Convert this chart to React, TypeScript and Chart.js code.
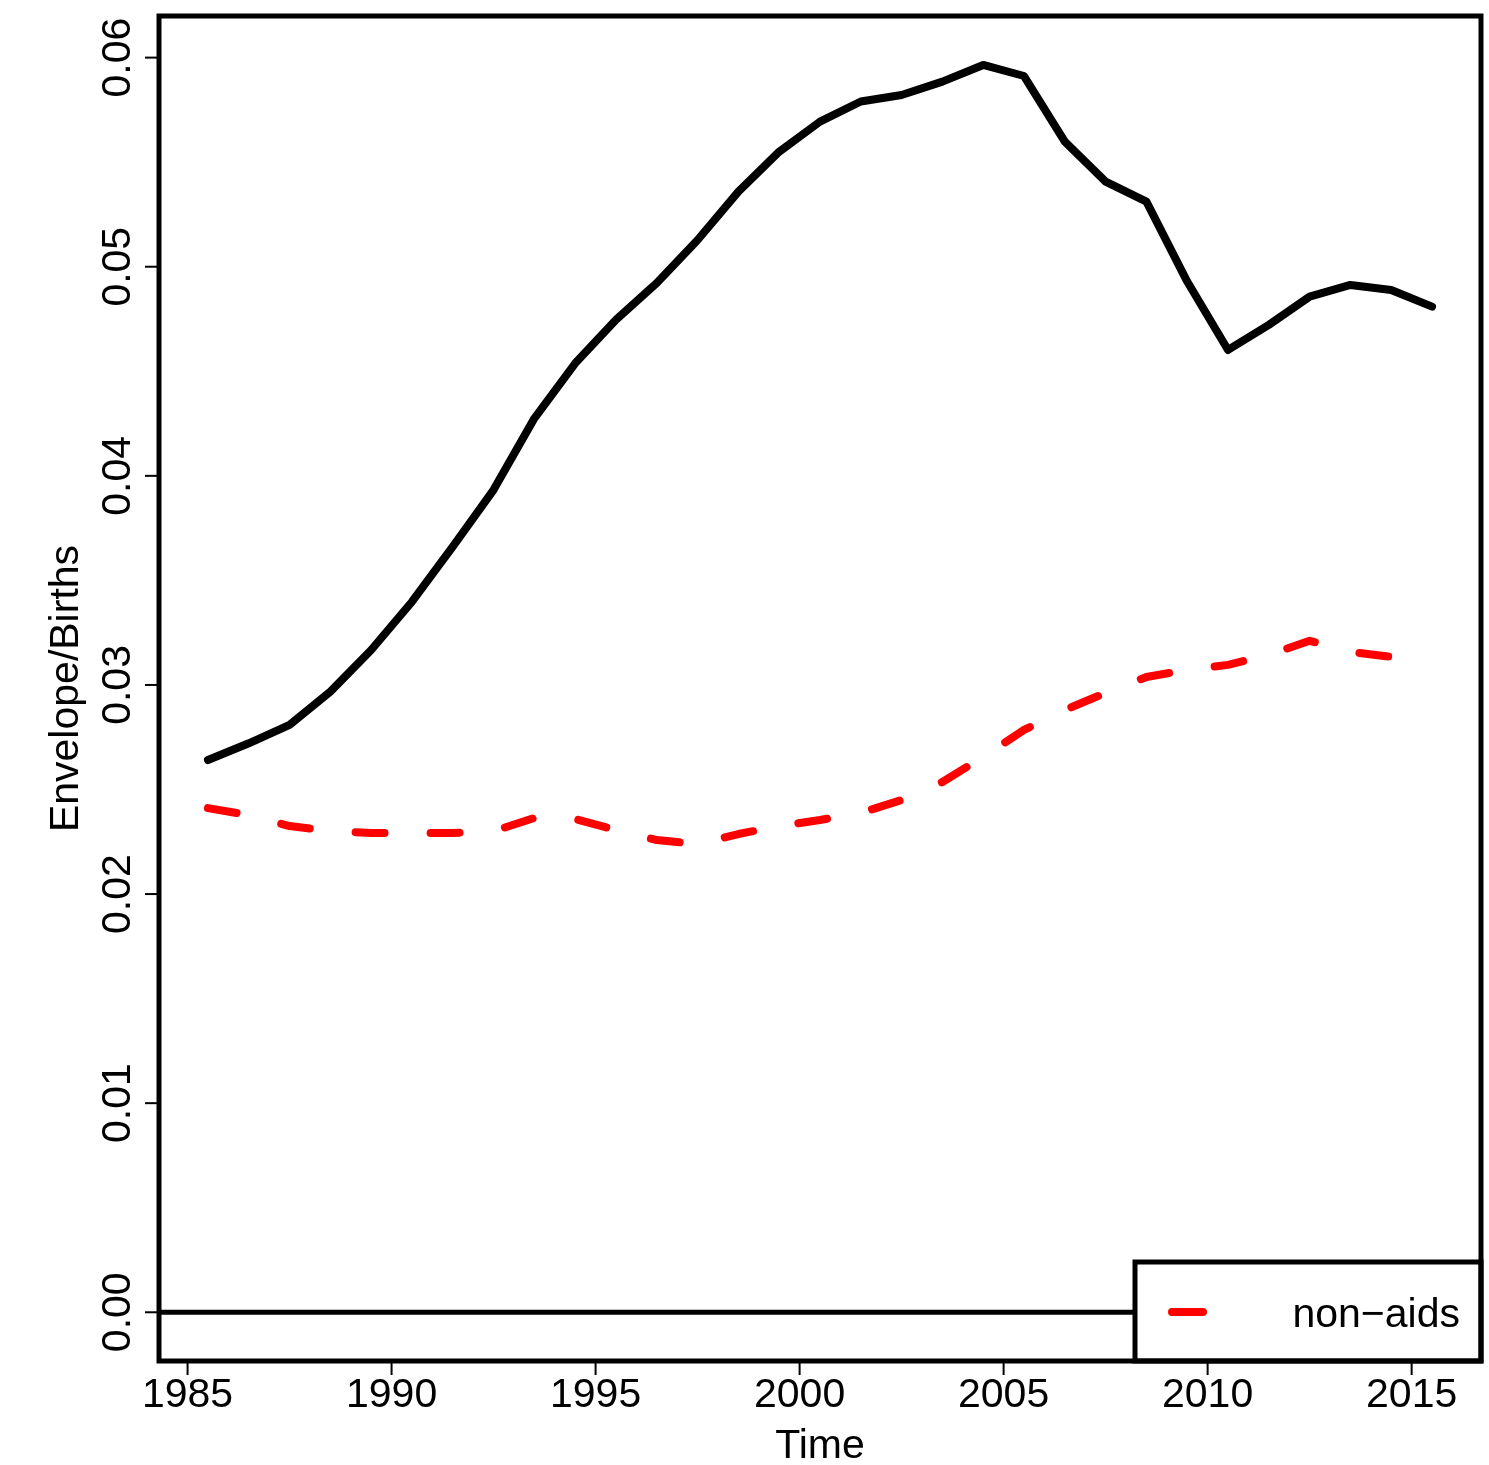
import React, { useEffect, useRef } from "react";
import { Chart, registerables } from "chart.js";

Chart.register(...registerables);

const years = [
  1985.5, 1986.5, 1987.5, 1988.5, 1989.5, 1990.5, 1991.5, 1992.5, 1993.5, 1994.5,
  1995.5, 1996.5, 1997.5, 1998.5, 1999.5, 2000.5, 2001.5, 2002.5, 2003.5, 2004.5,
  2005.5, 2006.5, 2007.5, 2008.5, 2009.5, 2010.5, 2011.5, 2012.5, 2013.5, 2014.5,
  2015.5,
];

const allCause = [
  0.02641, 0.02721, 0.02809, 0.02968, 0.03167, 0.03398, 0.03661, 0.03933, 0.04275, 0.04538,
  0.04746, 0.04922, 0.05128, 0.05359, 0.0555, 0.05694, 0.0579, 0.05821, 0.05885, 0.05965,
  0.05912, 0.05598, 0.05407, 0.05311, 0.04929, 0.04602, 0.04722, 0.04857, 0.04913, 0.04889,
  0.04809,
];

const nonAids = [
  0.02411, 0.02378, 0.02325, 0.02301, 0.02292, 0.02292, 0.02292, 0.02301, 0.02364, 0.02359,
  0.02306, 0.02258, 0.02239, 0.02287, 0.02325, 0.02354, 0.02388, 0.0245, 0.02536, 0.02656,
  0.02785, 0.0288, 0.02962, 0.03038, 0.03072, 0.03096, 0.03144, 0.03211, 0.03158, 0.03134,
];

const xTicks = [1985, 1990, 1995, 2000, 2005, 2010, 2015];
const yTicks = [0, 0.01, 0.02, 0.03, 0.04, 0.05, 0.06];
const yTickLabels = ["0.00", "0.01", "0.02", "0.03", "0.04", "0.05", "0.06"];
const legendLabels = ["non−aids"];

const FONT = "41px 'Liberation Sans', Arial, Helvetica, sans-serif";

const rPlotPlugin = {
  id: "rPlot",
  afterDatasetsDraw(chart: any) {
    const { ctx, chartArea } = chart;
    const xs = chart.scales.x;
    const ys = chart.scales.y;
    const { left, right, top, bottom } = chartArea;
    ctx.save();

    // abline h = 0
    const y0 = ys.getPixelForValue(0);
    ctx.strokeStyle = "#000";
    ctx.lineWidth = 5;
    ctx.lineCap = "butt";
    ctx.beginPath();
    ctx.moveTo(left, y0);
    ctx.lineTo(right, y0);
    ctx.stroke();

    // legend box
    const lgLeft = 1135;
    const lgTop = 1262;
    ctx.fillStyle = "#fff";
    ctx.fillRect(lgLeft, lgTop, right - lgLeft, bottom - lgTop);
    ctx.lineWidth = 5;
    ctx.strokeStyle = "#000";
    ctx.lineJoin = "miter";
    ctx.strokeRect(lgLeft, lgTop, right - lgLeft, bottom - lgTop);
    ctx.strokeStyle = "#ff0000";
    ctx.lineWidth = 8;
    ctx.lineCap = "round";
    ctx.beginPath();
    ctx.moveTo(1172, 1312);
    ctx.lineTo(1203, 1312);
    ctx.stroke();
    ctx.fillStyle = "#000";
    ctx.font = FONT;
    ctx.textAlign = "right";
    ctx.textBaseline = "alphabetic";
    ctx.fillText(legendLabels[0], 1460, 1327);

    // plot box
    ctx.lineCap = "butt";
    ctx.strokeStyle = "#000";
    ctx.lineWidth = 5;
    ctx.strokeRect(left, top, right - left, bottom - top);

    // x ticks
    ctx.lineWidth = 2;
    ctx.textAlign = "center";
    ctx.textBaseline = "alphabetic";
    xTicks.forEach((t) => {
      const px = xs.getPixelForValue(t);
      ctx.beginPath();
      ctx.moveTo(px, bottom);
      ctx.lineTo(px, bottom + 14);
      ctx.stroke();
      ctx.fillText(String(t), px, 1407);
    });

    // y ticks
    yTicks.forEach((t, i) => {
      const py = ys.getPixelForValue(t);
      ctx.beginPath();
      ctx.moveTo(left, py);
      ctx.lineTo(left - 14, py);
      ctx.stroke();
      ctx.save();
      ctx.translate(130, py);
      ctx.rotate(-Math.PI / 2);
      ctx.textAlign = "center";
      ctx.textBaseline = "alphabetic";
      ctx.fillText(yTickLabels[i], 0, 0);
      ctx.restore();
    });

    // axis titles
    ctx.textAlign = "center";
    ctx.fillText("Time", (left + right) / 2, 1458);
    ctx.save();
    ctx.translate(78, (top + bottom) / 2);
    ctx.rotate(-Math.PI / 2);
    ctx.fillText("Envelope/Births", 0, 0);
    ctx.restore();

    ctx.restore();
  },
};

export default function App() {
  const ref = useRef<HTMLCanvasElement | null>(null);
  useEffect(() => {
    if (!ref.current) return;
    const chart = new Chart(ref.current, {
      type: "line",
      data: {
        datasets: [
          {
            label: "all",
            data: years.map((x, i) => ({ x, y: allCause[i] })),
            borderColor: "#000",
            borderWidth: 8,
            pointRadius: 0,
            tension: 0,
            borderCapStyle: "round",
            borderJoinStyle: "round",
            fill: false,
          },
          {
            label: "non-aids",
            data: nonAids.map((y, i) => ({ x: years[i], y })),
            borderColor: "#ff0000",
            borderWidth: 8,
            pointRadius: 0,
            tension: 0,
            borderDash: [29, 46],
            borderCapStyle: "round",
            borderJoinStyle: "round",
            fill: false,
          },
        ],
      },
      options: {
        animation: false,
        responsive: false,
        devicePixelRatio: 1,
        layout: { padding: { left: 159, right: 8, top: 16, bottom: 104 } },
        plugins: { legend: { display: false }, tooltip: { enabled: false } },
        scales: {
          x: { type: "linear", min: 1984.3, max: 2016.7, display: false },
          y: { type: "linear", min: -0.00233, max: 0.06199, display: false },
        },
      },
      plugins: [rPlotPlugin],
    });
    return () => chart.destroy();
  }, []);
  return (
    <div style={{ position: "fixed", left: 0, top: 0, width: 1489, height: 1465, background: "#fff" }}>
      <canvas ref={ref} width={1489} height={1465} style={{ display: "block" }} />
    </div>
  );
}
